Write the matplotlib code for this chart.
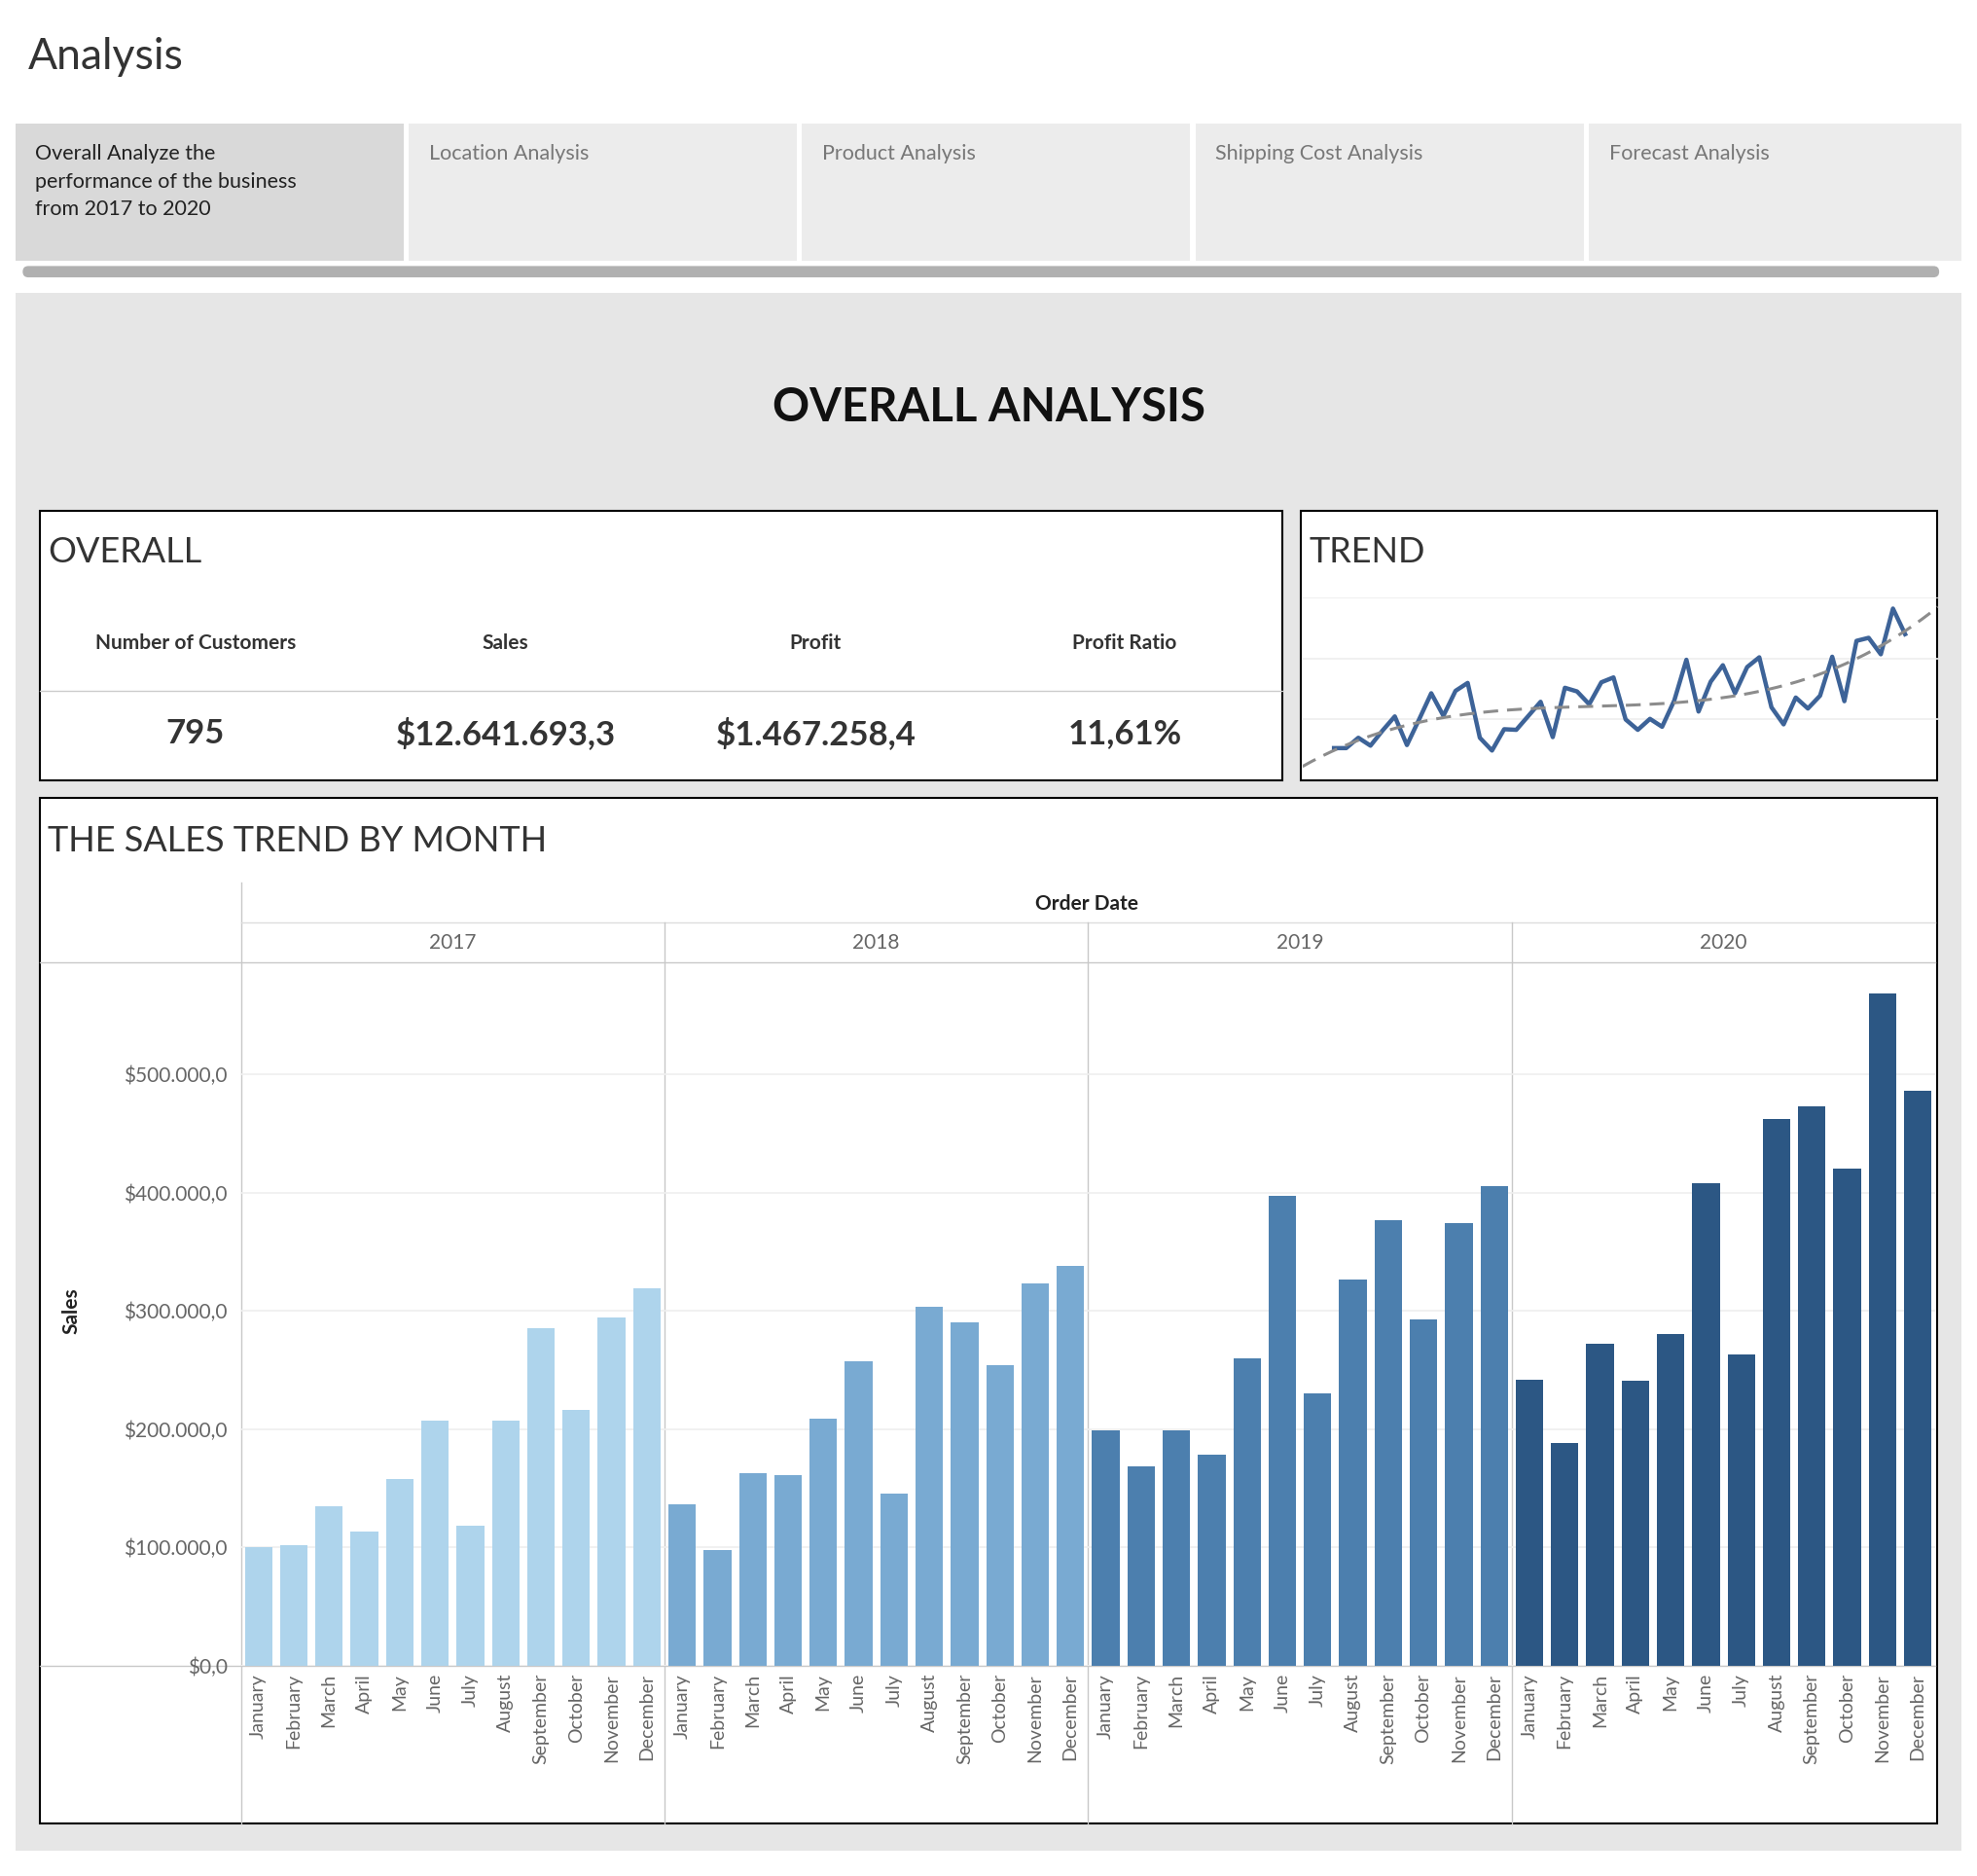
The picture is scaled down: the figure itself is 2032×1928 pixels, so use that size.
import matplotlib
matplotlib.use("Agg")
import matplotlib.pyplot as plt
import matplotlib.patches as mpatches
import numpy as np

plt.rcParams['font.family'] = ['Lato', 'DejaVu Sans']

# ---- data ----
years = ["2017", "2018", "2019", "2020"]
months = ["January", "February", "March", "April", "May", "June", "July",
          "August", "September", "October", "November", "December"]
sales_2017 = [100, 102, 135, 113, 158, 207, 118, 207, 285, 216, 294, 319]
sales_2018 = [136, 98, 163, 161, 209, 257, 145, 303, 290, 254, 323, 338]
sales_2019 = [199, 168, 199, 178, 260, 397, 230, 326, 377, 293, 374, 405]
sales_2020 = [242, 188, 272, 241, 280, 408, 263, 462, 473, 420, 568, 486]
year_colors = ["#aed4ec", "#79aad2", "#4c7fae", "#2c5784"]

# trend sparkline (relative units)
trend_vals = [53, 53, 70, 57, 82, 105, 58, 100, 143, 106, 147, 160,
              70, 49, 84, 83, 106, 129, 71, 152, 146, 125, 161, 169,
              100, 83, 101, 88, 131, 198, 113, 162, 189, 143, 186, 202,
              120, 92, 136, 118, 139, 203, 130, 229, 234, 207, 282, 240]

kpi_labels = ["Number of Customers", "Sales", "Profit", "Profit Ratio"]
kpi_values = ["795", "$12.641.693,3", "$1.467.258,4", "11,61%"]
tabs = ["Overall Analyze the\nperformance of the business\nfrom 2017 to 2020",
        "Location Analysis", "Product Analysis", "Shipping Cost Analysis",
        "Forecast Analysis"]

# ---- layout helpers (reference display coordinates) ----
W, H = 1568.0, 1488.0
fig = plt.figure(figsize=(20.32, 19.28), dpi=100)
bg = fig.add_axes([0, 0, 1, 1])
bg.set_xlim(0, W)
bg.set_ylim(H, 0)
bg.axis("off")


def rect(x0, y0, x1, y1, **kw):
    bg.add_patch(mpatches.Rectangle((x0, y0), x1 - x0, y1 - y0, **kw))


def axes_at(x0, y0, x1, y1):
    return fig.add_axes([x0 / W, 1 - y1 / H, (x1 - x0) / W, (y1 - y0) / H])


bg.text(22, 45, "Analysis", fontsize=32, color="#333333", va="center")

# tabs
tab_x = [(12, 320), (324, 632), (636, 944), (948, 1256), (1260, 1556)]
for i, (t, (x0, x1)) in enumerate(zip(tabs, tab_x)):
    rect(x0, 98, x1, 207, facecolor="#d9d9d9" if i == 0 else "#ececec", lw=0)
    bg.text(x0 + 16, 114, t, fontsize=15.5, va="top", linespacing=1.55,
            color="#222222" if i == 0 else "#777777")
bg.add_patch(mpatches.FancyBboxPatch((18, 211), 1520, 9,
             boxstyle="round,pad=0,rounding_size=4.5", facecolor="#b0b0b0", lw=0))

# main panel
rect(12, 232, 1556, 1468, facecolor="#e6e6e6", lw=0)
bg.text(784, 323, "OVERALL ANALYSIS", fontsize=34, fontweight="bold",
        ha="center", va="center", color="#111111")

# OVERALL box
rect(32, 405, 1017, 619, facecolor="white", edgecolor="black", lw=1.5)
bg.text(38, 438, "OVERALL", fontsize=26, va="center", color="#333333")
bg.plot([32, 1017], [548, 548], color="#cccccc", lw=1)
kx = [155, 401, 647, 892]
for x, lab, val in zip(kx, kpi_labels, kpi_values):
    bg.text(x, 510, lab, fontsize=15, fontweight="bold", ha="center",
            va="center", color="#333333")
    bg.text(x, 582, val, fontsize=25, fontweight="bold", ha="center",
            va="center", color="#333333")

# TREND box
rect(1032, 405, 1536, 619, facecolor="white", edgecolor="black", lw=1.5)
bg.text(1038, 438, "TREND", fontsize=26, va="center", color="#333333")
tax = axes_at(1033, 474, 1537, 619)
xs = np.arange(len(trend_vals))
tax.plot(xs, trend_vals, color="#3d6398", lw=3.2, solid_joinstyle="round")
coef = np.polyfit(xs, trend_vals, 3)
xf = np.linspace(-2.6, 49.7, 200)
tax.plot(xf, np.polyval(coef, xf), color="#8c8c8c", lw=2.2, ls=(0, (5, 3)))
tax.set_xlim(-2.6, 49.7)
tax.set_ylim(0, 300)
tax.set_yticks([100, 200, 300])
tax.grid(axis="y", color="#eeeeee", lw=1.2)
tax.set_xticks([])
tax.tick_params(left=False, labelleft=False)
for s in tax.spines.values():
    s.set_visible(False)
tax.patch.set_alpha(0)

# SALES box
rect(32, 633, 1536, 1446, facecolor="white", edgecolor="black", lw=1.5)
bg.text(38, 667, "THE SALES TREND BY MONTH", fontsize=26, va="center", color="#333333")
bg.text(862, 717, "Order Date", fontsize=15, fontweight="bold", ha="center",
        va="center", color="#222222")
bg.plot([191, 191], [700, 1446], color="#c8c8c8", lw=1)
bg.plot([191, 1535], [732, 732], color="#dddddd", lw=1)
bg.plot([32, 1535], [763, 763], color="#c8c8c8", lw=1)
bg.plot([32, 1535], [1321, 1321], color="#c8c8c8", lw=1)
year_w = (1535 - 191) / 4
for i, y in enumerate(years):
    bg.text(191 + year_w * (i + 0.5), 748, y, fontsize=15, ha="center",
            va="center", color="#666666")
    if i > 0:
        bg.plot([191 + year_w * i] * 2, [732, 1446], color="#c8c8c8", lw=1)
bg.text(57, 1040, "Sales", fontsize=15, fontweight="bold", rotation=90,
        ha="center", va="center", color="#222222")

sax = axes_at(191, 763, 1535, 1321)
all_sales = [sales_2017, sales_2018, sales_2019, sales_2020]
for i, (vals, c) in enumerate(zip(all_sales, year_colors)):
    pos = np.arange(12) + 12 * i
    sax.bar(pos, np.array(vals) * 1000, width=0.78, color=c)
sax.set_xlim(-0.5, 47.5)
sax.set_ylim(0, 595000)
yt = np.arange(0, 500001, 100000)
sax.set_yticks(yt)
sax.set_yticklabels(["$" + f"{v:,.1f}".replace(",", "X").replace(".", ",").replace("X", ".")
                     for v in yt])
sax.grid(axis="y", color="#efefef", lw=1.2)
sax.set_axisbelow(True)
sax.set_xticks(np.arange(48))
sax.set_xticklabels(months * 4, rotation=90)
sax.tick_params(axis="x", length=0, labelsize=14, labelcolor="#666666", pad=6)
sax.tick_params(axis="y", length=0, labelsize=15, labelcolor="#666666", pad=10)
for s in sax.spines.values():
    s.set_visible(False)
sax.patch.set_alpha(0)

fig.savefig("out.png", dpi=100)
